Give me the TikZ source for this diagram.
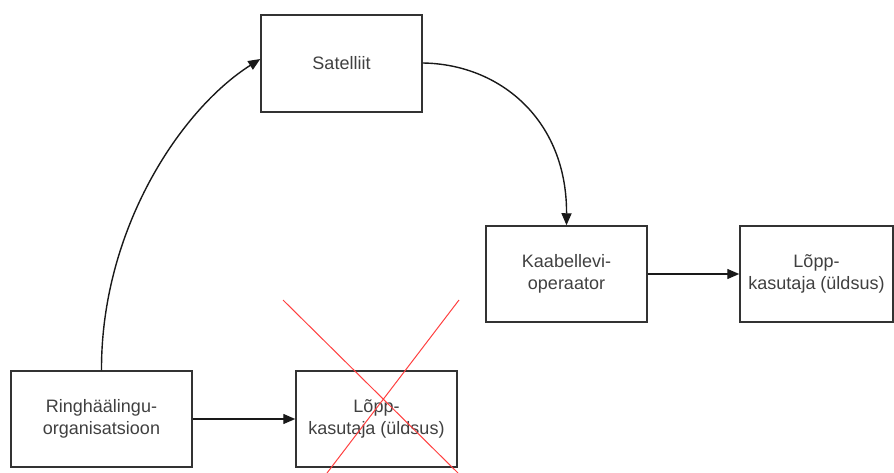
\documentclass[tikz,border=0pt]{standalone}
\usepackage{fontspec}
\setmainfont{Liberation Sans}
\usetikzlibrary{arrows.meta}
\begin{document}
\begin{tikzpicture}[x=1pt,y=-1pt,
  box/.style={draw=black!80, line width=1.5pt, rectangle, inner sep=0pt,
    text=black!75, align=center, font=\fontsize{18}{22}\selectfont},
  conn/.style={draw=black!90, line width=1.4pt, -{Triangle[length=12pt,width=10pt]}},
  cross/.style={draw=red!75, line width=1pt}]
\useasboundingbox (0,0) rectangle (894,472);
\node[box, minimum width=161pt, minimum height=97pt] (sat) at (341.5,63.5) {Satelliit};
\node[box, minimum width=161pt, minimum height=96pt] (kab) at (566.5,274) {Kaabellevi-\\operaator};
\node[box, minimum width=153pt, minimum height=96pt] (lr) at (816.5,274) {Lõpp-\\kasutaja (üldsus)};
\node[box, minimum width=181pt, minimum height=96pt] (ring) at (101.5,419) {Ringhäälingu-\\organisatsioon};
\node[box, minimum width=161pt, minimum height=96pt] (lm) at (376.5,419) {Lõpp-\\kasutaja (üldsus)};
\coordinate (x1a) at (283,300);
\coordinate (x1b) at (458,473);
\coordinate (x2a) at (459,300);
\coordinate (x2b) at (327,473);
\draw[cross] (x1a) -- (x1b);
\draw[cross] (x2a) -- (x2b);
\draw[conn] (ring.north) .. controls (101,230) and (180,110) .. ([yshift=4.5pt]sat.west);
\draw[conn] ([yshift=0.5pt]sat.east) .. controls (500,64) and (567,120) .. (kab.north);
\draw[conn] (kab.east) -- (lr.west);
\draw[conn] (ring.east) -- (lm.west);
\end{tikzpicture}
\end{document}
